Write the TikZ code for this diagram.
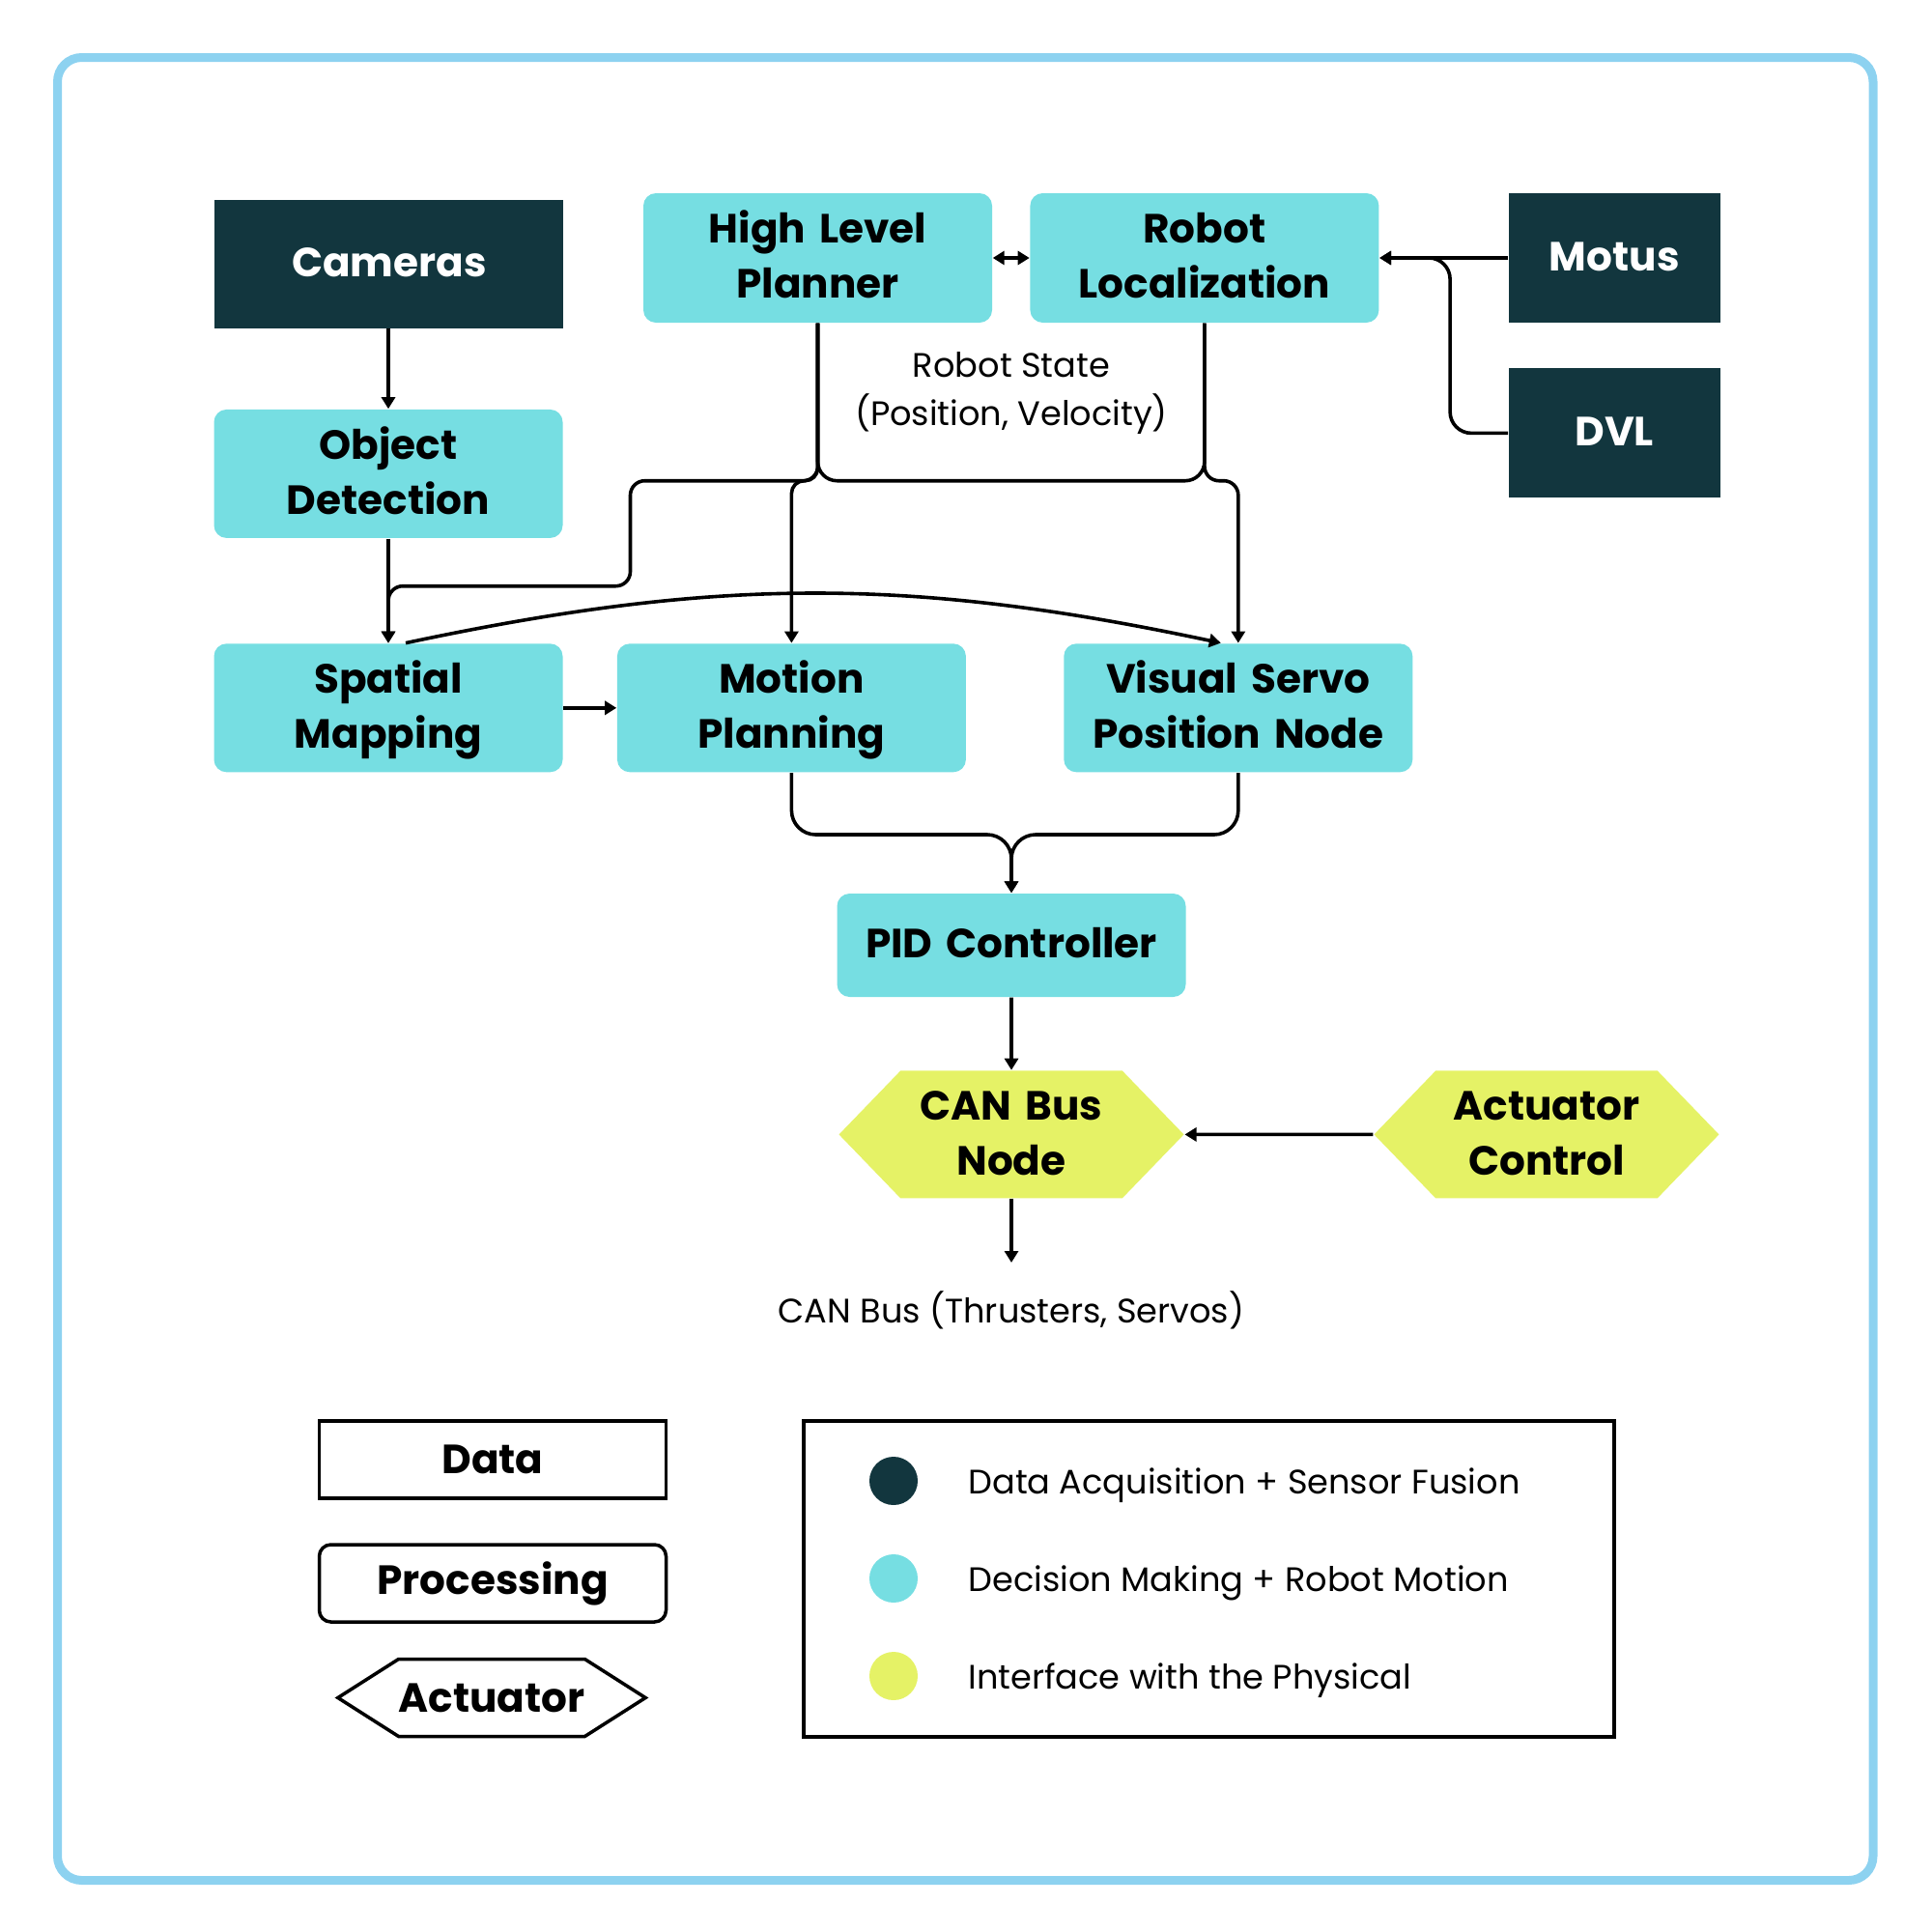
\documentclass[tikz,border=0pt]{standalone}
\usepackage{fontspec}
\setmainfont{Poppins}
\usetikzlibrary{shapes.symbols, arrows.meta, positioning}
\definecolor{sensorcol}{HTML}{12363E}
\definecolor{proccol}{HTML}{76DEE2}
\definecolor{actcol}{HTML}{E5F266}
\definecolor{framecol}{HTML}{8DD2F0}
\newcommand\topstrut{\rule{0pt}{12.5pt}}
\tikzset{
  boxtext/.style = {
    inner sep=0pt, align=center,
    font=\fontsize{12}{16.2}\selectfont\bfseries,
    execute at begin node=\topstrut, execute at end node=\strut
  },
  sensor/.style = {
    boxtext, rectangle, fill=sensorcol, text=white, text width=2cm,
    minimum width=3.61cm, minimum height=1.33cm
  },
  procbox/.style = {
    boxtext, rectangle, rounded corners=0.13cm, fill=proccol, text width=3.3cm,
    minimum width=3.61cm, minimum height=1.33cm
  },
  actbox/.style = {
    boxtext, signal, signal to=west and east, signal pointer angle=92,
    fill=actcol, text width=2.2cm, minimum width=3.57cm, minimum height=1.32cm
  },
  legbox/.style = {
    rectangle, draw=black, line width=0.035cm,
    minimum width=3.59cm, minimum height=0.80cm, inner sep=0pt,
    font=\fontsize{12}{16.2}\selectfont\bfseries
  },
  legact/.style = {
    signal, signal to=west and east, signal pointer angle=65,
    draw=black, line width=0.035cm,
    minimum width=2.96cm, minimum height=0.80cm, inner sep=0pt,
    font=\fontsize{12}{16.2}\selectfont\bfseries
  },
  dot/.style = {circle, minimum size=0.5cm, inner sep=0pt},
  note/.style = {font=\fontsize{10}{14}\selectfont, align=center, inner sep=0pt},
  line/.style = {line width=0.036cm},
  arrow/.style = {line, -{Triangle[length=0.12cm, width=0.14cm]}},
  twoway/.style = {line, {Triangle[length=0.12cm, width=0.14cm]}-{Triangle[length=0.12cm, width=0.14cm]}}
}

\begin{document}
\begin{tikzpicture}
  \useasboundingbox (0,0) rectangle (20,-20);
  \draw[framecol, line width=0.09cm, rounded corners=0.25cm] (0.595,-0.595) rectangle (19.39,-19.465);

  \node[sensor]   (cameras) at (4.02,-2.73)          {Cameras};
  \node[procbox]  (objdet)  [below=0.83cm of cameras] {Object\\Detection};
  \node[procbox]  (spatial) [below=1.08cm of objdet]  {Spatial\\Mapping};
  \node[procbox]  (motion)  [right=0.55cm of spatial] {Motion\\Planning};
  \node[procbox]  (servo)   [right=1.00cm of motion]  {Visual Servo\\Position Node};
  \node[procbox, minimum height=1.34cm] (hlp) at (8.465,-2.67) {High Level\\Planner};
  \node[procbox, minimum height=1.34cm] (rloc) [right=0.38cm of hlp] {Robot\\Localization};
  \node[sensor, minimum width=2.19cm, minimum height=1.34cm] (motus) [right=1.33cm of rloc] {Motus};
  \node[sensor, minimum width=2.19cm, minimum height=1.34cm] (dvl) [below=0.46cm of motus] {DVL};
  \node[note]     (state)   at (10.47,-4.07) {Robot State\\(Position, Velocity)};
  \node[procbox, minimum height=1.07cm] (pid) at (10.47,-9.785) {PID Controller};
  \node[actbox]   (canbus)  [below=0.75cm of pid]     {CAN Bus\\Node};
  \node[actbox]   (actctrl) [right=1.95cm of canbus]  {Actuator\\Control};
  \coordinate     (busout)  at (10.47,-13.07);
  \node[note]     (busnote) at (10.47,-13.56) {CAN Bus (Thrusters, Servos)};

  \draw[arrow] (cameras) -- (objdet);
  \draw[arrow] (objdet)  -- (spatial);
  \draw[arrow] (spatial) -- (motion);
  \draw[twoway] (hlp) -- (rloc);
  \draw[arrow] (motus) -- (rloc);
  \draw[arrow, rounded corners=0.22cm] (dvl.west) -- ++(-0.6,0) |- (rloc.east);

  % robot state bus
  \draw[line, rounded corners=0.2cm] (hlp.south) -- ++(0,-1.63) -| (rloc.south);
  \draw[arrow, rounded corners=0.15cm] (hlp.south) -- ++(0,-1.63) -| ++(-1.94,-1.09) -| (spatial.north);
  \draw[arrow, rounded corners=0.13cm] (hlp.south) -- ++(0,-1.63) -| (motion.north);
  \draw[arrow, rounded corners=0.15cm] (rloc.south) -- ++(0,-1.63) -| (servo.north);
  \draw[arrow] (spatial.75) to[bend left=12] (servo.105);

  \draw[arrow, rounded corners=0.25cm] (motion.south) -- ++(0,-0.64) -| (pid.north);
  \draw[arrow, rounded corners=0.25cm] (servo.south)  -- ++(0,-0.64) -| (pid.north);
  \draw[arrow] (pid) -- (canbus);
  \draw[arrow] (canbus) -- (busout);
  \draw[arrow] (actctrl) -- (canbus);

  % legend
  \node[legbox] (legdata) at (5.10,-15.11) {Data};
  \node[legbox, rounded corners=0.12cm] (legproc) at (5.10,-16.39) {Processing};
  \node[legact] (legactu) at (5.09,-17.575) {Actuator};
  \node[draw=black, line width=0.035cm, minimum width=8.39cm, minimum height=3.27cm, inner sep=0pt] (legend) at (12.515,-16.345) {};
  \node[dot, fill=sensorcol] (dotsensor) at (9.25,-15.33) {};
  \node[dot, fill=proccol]   (dotproc)   at (9.25,-16.34) {};
  \node[dot, fill=actcol]    (dotact)    at (9.25,-17.35) {};
  \node[note, right=0.51cm of dotsensor, yshift=-0.045cm] (txtsensor) {Data Acquisition + Sensor Fusion};
  \node[note, right=0.51cm of dotproc, yshift=-0.045cm]   (txtproc)   {Decision Making + Robot Motion};
  \node[note, right=0.51cm of dotact, yshift=-0.045cm]    (txtact)    {Interface with the Physical};
\end{tikzpicture}
\end{document}
